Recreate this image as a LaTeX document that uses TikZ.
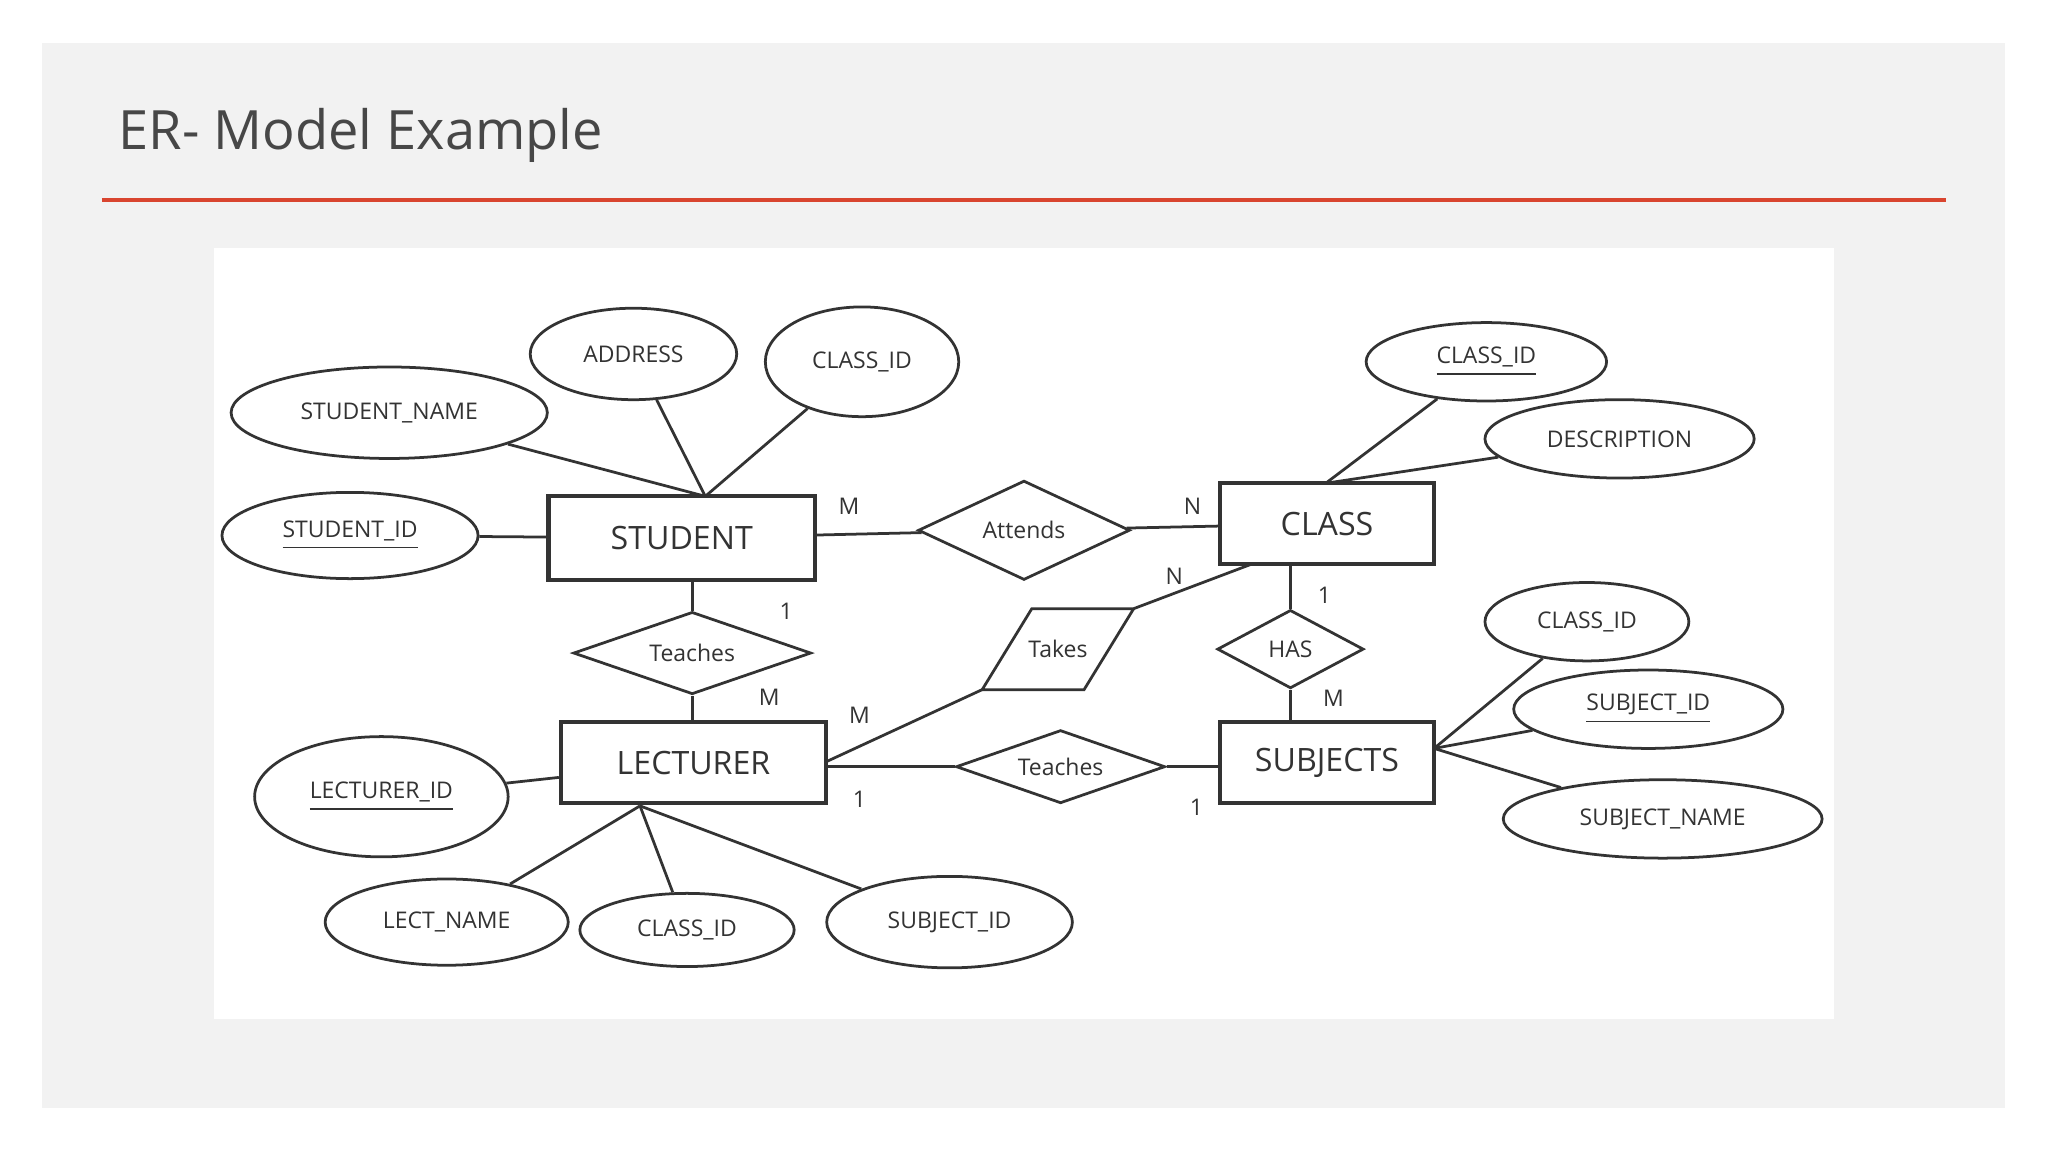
\documentclass[tikz,border=0pt]{standalone}
\usepackage{fontspec}
\setmainfont{Open Sans}
\usetikzlibrary{shapes.geometric}
\definecolor{ink}{HTML}{333333}
\definecolor{slide}{HTML}{F2F2F2}
\definecolor{redline}{HTML}{D9452F}
\begin{document}
\begin{tikzpicture}[x=0.01cm,y=-0.01cm,
  every node/.style={text=ink},
  ent/.style={draw=ink,line width=0.9pt,rectangle,inner sep=0pt,font=\fontsize{7}{9}\selectfont},
  rel/.style={draw=ink,line width=0.6pt,diamond,aspect=2.4,inner sep=0pt,font=\fontsize{5}{6}\selectfont},
  att/.style={draw=ink,line width=0.6pt,ellipse,inner sep=0pt,font=\fontsize{5}{6}\selectfont},
  card/.style={font=\fontsize{5}{6}\selectfont},
  ln/.style={draw=ink,line width=0.6pt}]
\useasboundingbox (0,0) rectangle (1568,882);
\fill[slide] (32,33) rectangle (1535,848);
\node[anchor=west,inner sep=0pt,text=ink!90,font=\fontsize{11.8}{14}\selectfont] (title) at (90,104) {ER- Model Example};
\draw[redline,line width=0.8pt] (78,153) -- (1490,153);
\fill[white] (164,190) rectangle (1404,780);
% entities
\node[ent,minimum width=2.04cm,minimum height=0.64cm] (student) at (522,412) {STUDENT};
\node[ent,minimum width=1.64cm,minimum height=0.62cm] (class) at (1016,401) {CLASS};
\node[ent,minimum width=2.03cm,minimum height=0.62cm] (lect) at (531,584) {LECTURER};
\node[ent,minimum width=1.64cm,minimum height=0.62cm] (subj) at (1016,584) {SUBJECTS};
% relationships
\node[rel,minimum width=1.62cm,minimum height=0.76cm] (attends) at (784,406) {Attends};
\node[rel,minimum width=1.82cm,minimum height=0.63cm] (teach1) at (530,500) {Teaches};
\node[rel,minimum width=1.12cm,minimum height=0.60cm] (has) at (988,497) {HAS};
\node[rel,minimum width=1.60cm,minimum height=0.56cm] (teach2) at (812,587) {Teaches};
\node[font=\fontsize{5}{6}\selectfont] (takes) at (810,497) {Takes};
\coordinate (tk1) at (790,466); \coordinate (tk2) at (868,466);
\coordinate (tk3) at (830,528); \coordinate (tk4) at (752,528);
\draw[ln] (tk1) -- (tk2) -- (tk3) -- (tk4) -- cycle;
% attributes
\node[att,minimum width=1.58cm,minimum height=0.70cm] (addr) at (485,271) {ADDRESS};
\node[att,minimum width=1.48cm,minimum height=0.84cm] (scid) at (660,277) {CLASS\_ID};
\node[att,minimum width=2.42cm,minimum height=0.70cm] (sname) at (298,316) {STUDENT\_NAME};
\node[att,minimum width=1.96cm,minimum height=0.66cm] (sid) at (268,410) {\underline{STUDENT\_ID}};
\node[att,minimum width=1.84cm,minimum height=0.60cm] (ccid) at (1138,277) {\underline{CLASS\_ID}};
\node[att,minimum width=2.06cm,minimum height=0.60cm] (desc) at (1240,336) {DESCRIPTION};
\node[att,minimum width=1.56cm,minimum height=0.60cm] (sbcid) at (1215,476) {CLASS\_ID};
\node[att,minimum width=2.06cm,minimum height=0.60cm] (sbid) at (1262,543) {\underline{SUBJECT\_ID}};
\node[att,minimum width=2.44cm,minimum height=0.60cm] (sbname) at (1273,627) {SUBJECT\_NAME};
\node[att,minimum width=1.94cm,minimum height=0.92cm] (lid) at (292,610) {\underline{LECTURER\_ID}};
\node[att,minimum width=1.86cm,minimum height=0.66cm] (lname) at (342,706) {LECT\_NAME};
\node[att,minimum width=1.64cm,minimum height=0.56cm] (lcid) at (526,712) {CLASS\_ID};
\node[att,minimum width=1.88cm,minimum height=0.70cm] (lsid) at (727,706) {SUBJECT\_ID};
% connector anchor points
\coordinate (stop) at (540,380);
\coordinate (ctop) at (1015,370);
\coordinate (sright) at (1098,573);
\coordinate (lbot) at (490,617);
\coordinate (lr) at (633,583);
\coordinate (cbl) at (958,432);
% connectors
\draw[ln] (sname) -- (stop);
\draw[ln] (addr) -- (stop);
\draw[ln] (scid) -- (stop);
\draw[ln] (sid) -- (student);
\draw[ln] (student) -- (attends);
\draw[ln] (attends) -- (class);
\draw[ln] (ccid) -- (ctop);
\draw[ln] (desc) -- (ctop);
\draw[ln] (student.south -| teach1) -- (teach1);
\draw[ln] (teach1) -- (lect.north -| teach1);
\draw[ln] (class.south -| has) -- (has);
\draw[ln] (has) -- (subj.north -| has);
\draw[ln] (lr) -- (tk4);
\draw[ln] (tk2) -- (cbl);
\draw[ln] (lect.east |- teach2) -- (teach2);
\draw[ln] (teach2) -- (subj.west |- teach2);
\draw[ln] (sright) -- (sbcid);
\draw[ln] (sright) -- (sbid);
\draw[ln] (sright) -- (sbname);
\draw[ln] (lid) -- (lect);
\draw[ln] (lbot) -- (lname);
\draw[ln] (lbot) -- (lcid);
\draw[ln] (lbot) -- (lsid);
% cardinalities
\node[card] (c1) at (650,388) {M};
\node[card] (c2) at (913,388) {N};
\node[card] (c3) at (899,441) {N};
\node[card] (c4) at (602,468) {1};
\node[card] (c5) at (589,534) {M};
\node[card] (c6) at (658,548) {M};
\node[card] (c7) at (658,612) {1};
\node[card] (c8) at (1014,456) {1};
\node[card] (c9) at (1021,535) {M};
\node[card] (c10) at (916,618) {1};
\end{tikzpicture}
\end{document}
